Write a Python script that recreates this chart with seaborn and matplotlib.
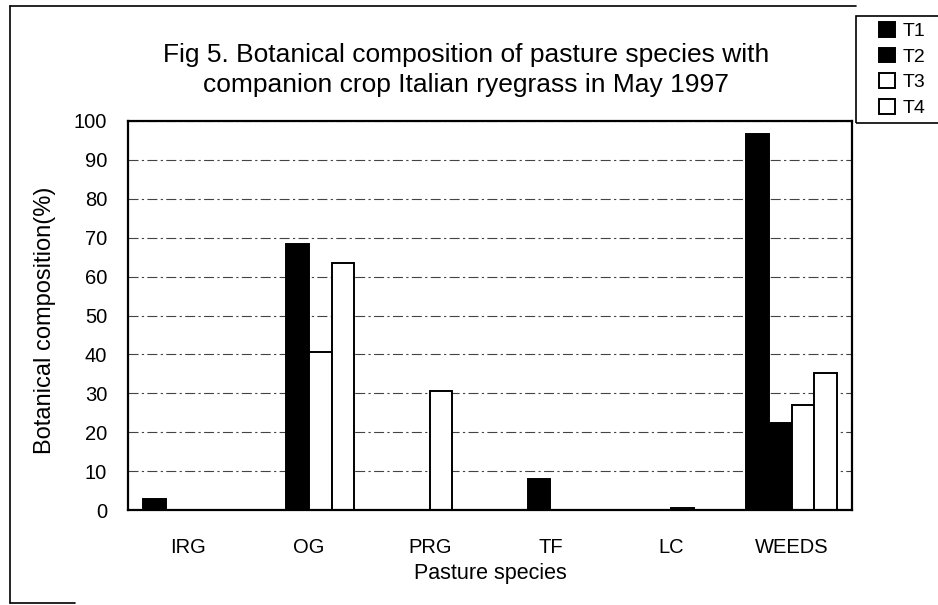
import matplotlib
matplotlib.use("Agg")
import matplotlib.pyplot as plt
from matplotlib.lines import Line2D
from matplotlib.patches import Rectangle
import pandas as pd
import seaborn as sns

# ── data ──────────────────────────────────────────────────────────────────────
species = ["IRG", "OG", "PRG", "TF", "LC", "WEEDS"]
treatments = ["T1", "T2", "T3", "T4"]
t1 = [2.8, 0.0, 0.0, 0.0, 0.0, 96.6]
t2 = [0.0, 68.3, 0.0, 7.9, 0.0, 22.4]
t3 = [0.0, 40.7, 30.5, 0.0, 0.5, 27.1]
t4 = [0.0, 63.5, 0.0, 0.0, 0.0, 35.2]
yticks = list(range(0, 101, 10))

title = ("Fig 5. Botanical composition of pasture species with\n"
         "companion crop Italian ryegrass in May 1997")

# ── theme ─────────────────────────────────────────────────────────────────────
sns.set_theme(style="white")
plt.rcParams["font.family"] = ["Liberation Sans", "DejaVu Sans"]
plt.rcParams["text.color"] = "black"

df = pd.DataFrame({"species": species * 4,
                   "treatment": [t for t in treatments for _ in species],
                   "value": t1 + t2 + t3 + t4})

palette = {"T1": "black", "T2": "black", "T3": "white", "T4": "white"}

W, H = 938, 605
fig = plt.figure(figsize=(W / 100, H / 100), dpi=100)
ax = fig.add_axes([128 / W, 1 - 510 / H, (852 - 128) / W, (510 - 121) / H])

sns.barplot(data=df, x="species", y="value", hue="treatment", order=species,
            hue_order=treatments, palette=palette, width=0.75,
            edgecolor="black", linewidth=1.4, saturation=1, ax=ax)

ax.set_ylim(0, 100)
ax.set_xlim(-0.5, len(species) - 0.5)
ax.set_yticks(yticks)
ax.tick_params(axis="both", length=0, labelsize=14.5, colors="black")
ax.tick_params(axis="y", pad=15)
ax.tick_params(axis="x", pad=20)
ax.yaxis.grid(True, color="#444444", linestyle=(0, (9, 3, 2, 3)), linewidth=0.8)
ax.set_axisbelow(True)
for sp in ax.spines.values():
    sp.set_color("black")
    sp.set_linewidth(1.6)

ax.set_xlabel("")
ax.set_ylabel("")
fig.text(466 / W, 1 - 70 / H, title, ha="center", va="center",
         fontsize=19, linespacing=1.35)
fig.text(490 / W, 1 - 573 / H, "Pasture species", ha="center", va="center", fontsize=15.5)
fig.text(45 / W, 1 - 320 / H, "Botanical composition(%)", ha="center", va="center",
         rotation=90, fontsize=17)

# legend outside the plot, top right (box drawn separately, it runs off the edge)
handles, labels = ax.get_legend_handles_labels()
ax.legend_.remove()
fig.legend(handles, labels, loc="upper left",
           bbox_to_anchor=(879 / W, 1 - 22 / H), borderaxespad=0, borderpad=0,
           fontsize=14, frameon=False, handlelength=0.8, handleheight=0.8,
           handletextpad=0.4, labelspacing=0.38)
fig.add_artist(Rectangle((856 / W, 1 - 123 / H), 100 / W, 107 / H,
                         transform=fig.transFigure, fill=False,
                         edgecolor="black", linewidth=1.2))

# outer chart-area frame
fig.add_artist(Line2D([10 / W, 10 / W], [1 - 6 / H, 1 - 603 / H], color="black", lw=1.2))
fig.add_artist(Line2D([10 / W, 856 / W], [1 - 6 / H, 1 - 6 / H], color="black", lw=1.2))
fig.add_artist(Line2D([10 / W, 75 / W], [1 - 603 / H, 1 - 603 / H], color="black", lw=1.2))

fig.savefig("out.png", dpi=100, facecolor="white")
